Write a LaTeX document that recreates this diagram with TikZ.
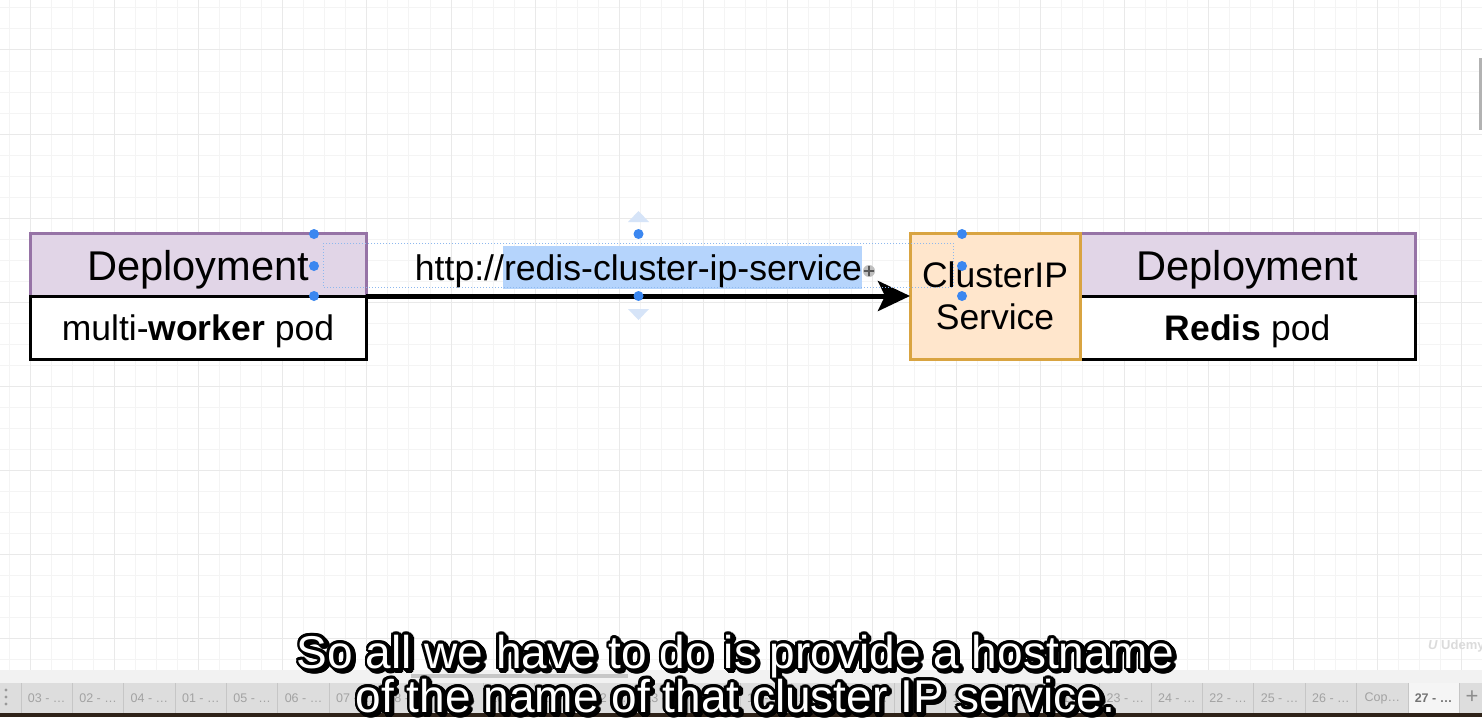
\documentclass[tikz,border=0pt]{standalone}
\usepackage{fontspec}
\setmainfont{Liberation Sans}
\usetikzlibrary{arrows.meta}
\definecolor{purplefill}{HTML}{E1D5E7}
\definecolor{purpleline}{HTML}{9673A6}
\definecolor{orangefill}{HTML}{FFE6CC}
\definecolor{orangeline}{HTML}{D9A441}
\definecolor{gridminor}{HTML}{F4F4F4}
\definecolor{gridmajor}{HTML}{E9E9E9}
\definecolor{handle}{HTML}{3B87F0}
\definecolor{selbox}{HTML}{8DB8EE}
\definecolor{hilite}{HTML}{B5D4FC}
\definecolor{paletri}{HTML}{D6E4F8}
\definecolor{tabbg}{HTML}{DDDDDD}
\definecolor{tabline}{HTML}{C6C6C6}
\definecolor{tabtext}{HTML}{A2A2A2}
\definecolor{stripbg}{HTML}{F2F2F2}
\definecolor{playerbar}{HTML}{2E2218}
\tikzset{
  box/.style={draw, line width=3pt, outer sep=0pt, inner sep=0pt, anchor=north west},
  deptop/.style={box, draw=purpleline, fill=purplefill, minimum height=63pt,
    text height=31pt, text depth=0pt, font=\fontsize{41.6}{48}\selectfont},
  podbox/.style={box, draw=black, fill=white, minimum height=63pt,
    text height=25pt, text depth=0pt, font=\fontsize{35.5}{42}\selectfont},
  svcbox/.style={box, draw=orangeline, fill=orangefill, minimum width=170pt,
    minimum height=126pt, align=center, font=\fontsize{35.5}{42}\selectfont},
  linklabel/.style={inner sep=0pt, anchor=base, font=\fontsize{35.6}{42}\selectfont},
  flowarrow/.style={line width=5pt, -{Stealth[length=32pt, width=30pt, inset=7pt]}},
  handledot/.style={fill=handle},
  tabtxt/.style={inner sep=0pt, text=tabtext, font=\fontsize{12.5}{14}\selectfont},
  subt/.style={inner sep=0pt, anchor=base, font=\fontsize{46}{50}\selectfont},
}
\begin{document}
\begin{tikzpicture}[x=1pt, y=-1pt]
\useasboundingbox (0,0) rectangle (1482,717);
\clip (0,0) rectangle (1482,717);
\fill[white] (0,0) rectangle (1482,717);
% grid
\foreach \k in {0,...,70} {\draw[gridminor, line width=1pt] (9+21.05*\k,0) -- (9+21.05*\k,670);}
\foreach \k in {0,...,31} {\draw[gridminor, line width=1pt] (0,8+21*\k) -- (1482,8+21*\k);}
\foreach \k in {0,...,17} {\draw[gridmajor, line width=1pt] (30+84.2*\k,0) -- (30+84.2*\k,670);}
\foreach \k in {0,...,7} {\draw[gridmajor, line width=1pt] (0,50+84*\k) -- (1482,50+84*\k);}
% right scrollbar
\fill[black!30] (1479,58) rectangle (1482,130);

% diagram
\node[deptop, minimum width=336pt] (ldep) at (30,233) {Deployment};
\node[podbox, minimum width=336pt] (lpod) at (30,296) {multi-\textbf{worker} pod};
\node[deptop, minimum width=335pt] (rdep) at (1080,233) {Deployment};
\node[podbox, minimum width=335pt] (rpod) at (1080,296) {\textbf{Redis} pod};
\node[svcbox] (cip) at (910,233) {ClusterIP\\Service};

\draw[flowarrow] (lpod.north east) -- (cip.west);

\fill[hilite] (503,246) rectangle (862,289);
\node[linklabel] (lbl) at (638.5,280) {http://redis-cluster-ip-service};

% selection handles
\draw[selbox, dotted, line width=1pt] (323,243) rectangle (953,287);
\fill[paletri] (628,222) -- (649,222) -- (638.5,211) -- cycle;
\fill[paletri] (628,309) -- (649,309) -- (638.5,320) -- cycle;
\foreach \p in {(314,234),(314,266),(314,296),(638.5,234),(638.5,296),(962,234),(962,266),(962,296)}
  {\fill[handledot] \p circle (5);}
\fill[black!25] (869,271) circle (6);
\draw[black!65, line width=1.2pt] (864,271) -- (874,271) (869,266) -- (869,276);

% udemy watermark
\node[anchor=west, inner sep=0pt, text=black!14, font=\bfseries\fontsize{13}{13}\selectfont] (wm) at (1428,646) {\itshape U\upshape\ Udemy};

% scroll strip and tab bar
\fill[stripbg] (0,670) rectangle (1482,683);
\fill[black!22] (411,674) rectangle (628,678);
\fill[tabbg] (0,683) rectangle (1482,713);
\foreach \yy in {690,697,704} {\fill[black!40] (6,\yy) circle (1.6);}
\foreach \i/\lab in {0/03,1/02,2/04,3/01,4/05,5/06,6/07,7/08,8/09,9/10,10/11,11/12,12/13,13/14,14/15,15/16,16/17,17/18,18/19,19/20,20/21,21/23,22/24,23/22,24/25,25/26}
{
  \draw[tabline, line width=1pt] (21+\i*51.37,683) -- (21+\i*51.37,713);
  \node[tabtxt] at (21+\i*51.37+25.7,698.5) {\lab\ - \dots};
}
\draw[tabline, line width=1pt] (21+26*51.37,683) -- (21+26*51.37,713);
\node[tabtxt] at (21+26*51.37+25.7,698.5) {Cop\dots};
\fill[black!4] (1408,683) rectangle (1459,713);
\draw[tabline, line width=1pt] (1408,683) -- (1408,713) (1459,683) -- (1459,713);
\node[tabtxt, text=black!55, font=\bfseries\fontsize{12.5}{14}\selectfont] at (1433.5,698.5) {27 - \dots};
\node[tabtxt, text=black!45, font=\fontsize{22}{22}\selectfont] at (1472,697.5) {+};
\fill[playerbar] (0,713) rectangle (1482,717);

% subtitle
\foreach \a in {0,22.5,...,337.5} {
  \node[subt, text=black] at ([shift={(\a:2.8)}] 738,670.5) {So all we have to do is provide a hostname};
  \node[subt, text=black] at ([shift={(\a:2.8)}] 738,714.5) {of the name of that cluster IP service.};
  \node[subt, text=black] at ([shift={(\a:2.8)}] 735.5,668) {So all we have to do is provide a hostname};
  \node[subt, text=black] at ([shift={(\a:2.8)}] 735.5,712) {of the name of that cluster IP service.};
}
\node[subt, text=white] (sub1) at (735.5,668) {So all we have to do is provide a hostname};
\node[subt, text=white] (sub2) at (735.5,712) {of the name of that cluster IP service.};
\end{tikzpicture}
\end{document}
